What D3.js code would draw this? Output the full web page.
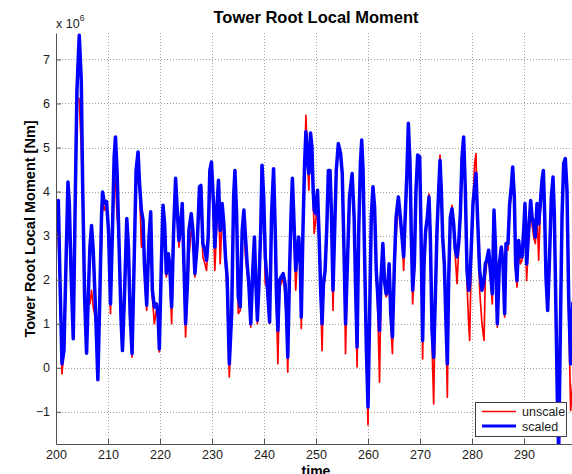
<!DOCTYPE html>
<html lang="en">
<head>
<meta charset="utf-8">
<title>Tower Root Local Moment</title>
<script src="https://d3js.org/d3.v7.min.js"></script>
<style>
  body { margin: 0; background: #fff; }
  svg { font-family: "Liberation Sans", Arial, Helvetica, sans-serif; display: block; }
</style>
</head>
<body>
<div id="grafica"></div>
<script>

// time [s]
var time = [
  200.00,200.45,200.77,201.15,201.53,201.92,202.30,202.56,202.94,203.32,
  203.71,204.03,204.47,204.86,205.11,205.50,205.88,206.20,206.52,206.84,
  207.16,207.41,207.67,208.05,208.43,208.75,208.95,209.33,209.71,210.10,
  210.48,210.86,211.18,211.44,211.76,212.14,212.52,212.78,213.16,213.61,
  213.93,214.25,214.63,215.02,215.40,215.78,216.10,216.42,216.74,217.00,
  217.44,217.89,218.21,218.53,218.91,219.30,219.62,219.87,220.26,220.58,
  220.89,221.21,221.60,221.85,222.24,222.62,223.00,223.32,223.64,223.96,
  224.28,224.60,224.92,225.30,225.56,226.01,226.33,226.71,227.16,227.60,
  227.86,228.24,228.63,228.95,229.27,229.58,229.90,230.29,230.54,230.93,
  231.25,231.57,231.95,232.27,232.59,232.91,233.33,233.78,234.16,234.41,
  234.73,235.05,235.43,235.81,236.13,236.44,236.76,237.08,237.46,237.84,
  238.16,238.41,238.73,238.98,239.37,239.62,239.94,240.25,240.57,241.08,
  241.46,241.84,242.16,242.41,242.67,242.98,243.30,243.68,244.06,244.32,
  244.57,244.95,245.21,245.46,245.71,246.10,246.35,246.67,246.98,247.17,
  247.49,247.81,248.06,248.38,248.63,248.95,249.21,249.46,249.65,249.97,
  250.29,250.60,250.92,251.17,251.43,251.75,252.06,252.38,252.70,252.95,
  253.27,253.59,253.90,254.29,254.73,255.05,255.37,255.68,256.00,256.44,
  256.95,257.33,257.65,257.90,258.22,258.54,258.79,259.05,259.37,259.68,
  260.00,260.32,260.63,260.95,261.27,261.59,261.90,262.22,262.48,262.86,
  263.17,263.49,263.75,264.06,264.38,264.70,265.08,265.40,265.84,266.22,
  266.54,266.86,267.18,267.50,267.76,268.08,268.33,268.59,268.91,269.23,
  269.55,269.94,270.19,270.51,270.77,271.09,271.41,271.73,271.99,272.31,
  272.63,272.95,273.27,273.59,273.85,274.10,274.36,274.68,275.00,275.26,
  275.51,275.83,276.15,276.47,276.79,277.12,277.44,277.76,278.08,278.40,
  278.72,279.04,279.36,279.55,279.87,280.19,280.51,280.77,281.09,281.47,
  281.92,282.31,282.56,282.82,283.21,283.53,283.91,284.23,284.49,284.87,
  285.26,285.64,285.96,286.28,286.54,286.92,287.24,287.56,287.82,288.14,
  288.40,288.65,288.97,289.29,289.62,289.94,290.19,290.51,290.90,291.28,
  291.54,291.86,292.18,292.50,292.82,293.14,293.46,293.72,293.97,294.23,
  294.55,294.87,295.26,295.58,295.83,296.15,296.41,296.67,296.99,297.31,
  297.63,297.95,298.27,298.59,298.97,299.40
];

// scaled moment [x 10^6 Nm]
var scaled = [
  3.12,3.80,1.98,0.09,0.39,2.36,4.22,3.73,1.98,0.66,
  3.88,6.30,7.55,6.53,4.26,1.61,0.33,1.61,2.74,3.23,
  2.67,1.91,1.08,-0.27,1.61,3.42,3.99,3.73,3.77,3.12,
  1.45,3.12,4.79,5.24,4.41,2.74,1.08,0.39,1.61,3.39,
  2.74,1.23,0.32,2.36,4.48,4.90,4.11,3.58,3.35,2.36,
  1.42,2.97,3.54,1.76,1.38,1.45,1.23,0.43,2.36,3.69,
  3.27,2.14,2.59,2.36,1.38,3.12,4.30,3.58,2.89,3.20,
  3.73,2.36,1.00,1.98,3.12,3.50,3.12,2.14,2.82,4.11,
  4.14,2.82,2.67,2.44,2.97,4.48,4.67,3.73,2.74,3.58,
  4.26,3.12,3.73,3.27,2.52,2.06,0.09,1.23,3.88,4.48,
  3.50,1.61,1.38,3.12,3.58,2.97,2.36,1.91,1.00,2.21,
  2.97,1.98,1.08,1.76,3.12,4.60,3.88,2.52,1.98,1.04,
  3.50,4.52,3.12,1.61,0.85,1.98,2.06,2.14,1.91,1.23,
  0.24,2.36,3.50,4.30,3.50,2.21,2.52,2.97,2.36,1.15,
  3.12,4.64,5.36,4.71,4.41,5.33,5.02,4.03,3.58,3.50,
  4.03,2.97,1.68,1.00,1.91,2.21,3.12,4.48,4.48,3.58,
  1.76,3.12,4.48,5.09,4.86,4.41,2.74,1.00,2.21,3.88,
  4.41,3.42,1.61,0.47,3.12,4.64,5.17,4.48,2.36,0.47,
  -0.89,1.23,3.42,4.11,3.65,2.21,1.61,0.85,1.98,2.82,
  1.98,1.68,1.76,2.36,1.23,0.70,2.36,3.42,3.88,3.42,
  2.97,2.52,3.50,4.48,5.55,4.64,2.97,1.76,2.36,4.03,
  4.83,4.79,3.12,0.62,2.36,3.12,3.42,3.88,2.97,0.85,
  0.24,1.61,3.12,4.03,4.71,4.03,2.97,2.36,1.00,0.09,
  1.98,3.42,3.61,3.27,2.67,2.52,2.82,3.50,4.79,5.24,
  4.03,2.21,1.76,1.91,2.74,3.73,4.11,4.41,3.35,2.21,
  1.76,1.98,2.36,2.44,2.67,2.21,1.68,3.58,2.82,1.00,
  2.36,2.74,2.36,1.23,2.82,2.82,3.73,4.11,4.56,3.88,
  2.36,1.98,2.89,2.52,2.52,3.12,3.73,2.36,3.12,3.80,
  3.42,3.27,2.97,3.73,3.27,3.73,4.26,4.48,3.50,2.06,
  1.30,2.36,3.88,4.33,3.50,1.23,-0.67,-1.95,0.85,3.42,
  4.64,4.75,4.03,1.61,0.09,1.50
];

// unscaled moment [x 10^6 Nm]
var unscale = [
  2.52,3.65,1.91,-0.14,0.39,2.21,4.11,3.05,1.91,0.66,
  3.73,6.15,6.10,5.00,4.03,1.45,0.33,1.45,1.45,1.76,
  1.38,1.23,1.00,-0.27,1.61,2.82,3.73,3.58,3.80,3.12,
  1.23,2.97,4.18,4.26,3.42,2.90,0.85,0.43,1.45,3.27,
  2.36,1.15,0.24,2.21,4.33,4.18,4.03,2.74,3.27,2.21,
  1.30,2.82,3.42,1.61,1.00,1.30,1.15,0.36,2.21,3.58,
  3.12,2.06,2.44,2.21,1.00,2.97,4.18,3.42,2.74,3.12,
  3.65,2.21,0.70,1.83,2.52,3.12,2.97,2.06,2.74,4.03,
  3.88,2.52,2.36,2.21,2.82,4.33,4.48,3.42,2.21,3.27,
  4.11,2.36,3.42,3.12,2.36,1.68,-0.21,1.15,3.73,4.33,
  3.42,1.23,1.30,2.97,3.42,2.52,2.21,1.76,0.92,2.06,
  2.82,1.83,1.00,1.61,2.97,4.48,3.73,1.91,1.83,1.00,
  3.35,4.41,2.97,1.38,0.09,1.83,1.91,2.06,1.68,1.00,
  -0.10,2.21,3.35,4.18,3.35,1.76,2.36,2.82,2.21,0.89,
  2.97,4.64,5.73,4.64,4.03,5.24,4.86,3.88,3.05,3.35,
  3.88,2.82,1.53,0.39,1.76,2.06,2.97,4.33,4.33,3.42,
  1.30,2.97,4.41,5.02,4.79,4.33,2.67,0.32,2.06,3.73,
  4.33,3.35,1.45,0.02,2.97,4.48,5.09,4.33,2.21,0.24,
  -1.30,1.08,3.27,3.88,3.50,2.06,1.23,-0.33,1.76,2.67,
  1.91,1.61,1.68,2.06,1.00,0.32,2.21,2.97,3.73,3.27,
  2.97,2.21,3.35,4.33,5.39,4.48,2.82,1.45,2.21,3.88,
  4.79,4.71,2.97,0.20,2.21,2.97,3.35,3.95,2.82,0.55,
  -0.82,1.45,2.97,3.88,4.83,3.88,2.82,2.21,0.85,-0.67,
  1.83,3.27,3.69,3.12,2.52,1.91,2.67,3.42,4.71,5.24,
  3.88,1.91,1.00,0.62,2.52,3.73,4.64,4.86,3.27,1.76,
  1.00,0.62,2.06,2.36,2.52,2.06,1.45,3.42,2.67,0.92,
  2.21,2.67,2.21,1.15,2.67,2.67,3.58,3.95,4.41,3.73,
  2.21,1.83,2.74,2.36,2.44,2.97,3.58,1.98,2.97,3.65,
  3.27,2.97,2.82,3.58,2.44,3.58,4.11,4.33,3.35,1.91,
  1.30,2.21,3.73,4.18,3.35,1.08,-0.74,-2.03,0.70,3.27,
  4.48,4.64,3.88,1.23,-0.97,-0.30
];

var xTicks = [200, 210, 220, 230, 240, 250, 260, 270, 280, 290];
var yTicks = [-1, 0, 1, 2, 3, 4, 5, 6, 7];

var w = 572;
var h = 474;
var padL = 56, padR = 576, padT = 33, padB = 444;

var svg = d3.select("#grafica")
            .append("svg")
            .attr("width", w)
            .attr("height", h);

svg.append("rect")
   .attr("width", w)
   .attr("height", h)
   .attr("fill", "#fff");

var x = d3.scaleLinear().domain([200, 300]).range([padL, padR]);
var y = d3.scaleLinear().domain([-1.73, 7.6]).range([padB, padT]);

// grid
var grid = svg.append("g")
              .attr("stroke", "#a0a0a0")
              .attr("stroke-width", 1)
              .attr("stroke-dasharray", "1,2");

grid.selectAll("line.gx")
    .data(xTicks.slice(1))
    .enter()
    .append("line")
    .attr("x1", function(d){ return Math.round(x(d)) + 0.5; })
    .attr("x2", function(d){ return Math.round(x(d)) + 0.5; })
    .attr("y1", padT)
    .attr("y2", padB);

grid.selectAll("line.gy")
    .data(yTicks)
    .enter()
    .append("line")
    .attr("x1", padL)
    .attr("x2", padR)
    .attr("y1", function(d){ return Math.round(y(d)) + 0.5; })
    .attr("y2", function(d){ return Math.round(y(d)) + 0.5; });

// lines
svg.append("clipPath")
   .attr("id", "plotclip")
   .append("rect")
   .attr("x", padL)
   .attr("y", padT)
   .attr("width", padR - padL)
   .attr("height", padB - padT);

var line = d3.line()
             .x(function(d){ return x(d[0]); })
             .y(function(d){ return y(d[1]); });

var plot = svg.append("g").attr("clip-path", "url(#plotclip)");

plot.append("path")
    .datum(d3.zip(time, unscale))
    .attr("d", line)
    .attr("fill", "none")
    .attr("stroke", "#ff0000")
    .attr("stroke-width", 1.7)
    .attr("stroke-linejoin", "round");

plot.append("path")
    .datum(d3.zip(time, scaled))
    .attr("d", line)
    .attr("fill", "none")
    .attr("stroke", "#0000ff")
    .attr("stroke-width", 3.5)
    .attr("stroke-linejoin", "round");

// axes
var yAxis = d3.axisLeft(y).tickValues(yTicks).tickSize(-5).tickSizeOuter(0).tickPadding(6);
var xAxis = d3.axisBottom(x).tickValues(xTicks).tickSize(-5).tickSizeOuter(0).tickPadding(6);

var gy = svg.append("g")
            .attr("transform", "translate(" + padL + ",0)")
            .call(yAxis);
var gx = svg.append("g")
            .attr("transform", "translate(0," + padB + ")")
            .call(xAxis);

[gx, gy].forEach(function(g){
  g.selectAll("path, line").attr("stroke", "#505050");
  g.selectAll("text")
   .attr("fill", "#1a1a1a")
   .style("font-size", "12.5px")
   .style("font-family", "'Liberation Sans', Arial, sans-serif");
});

// exponent
var ex = svg.append("text")
            .attr("x", 56)
            .attr("y", 28)
            .attr("fill", "#1a1a1a")
            .style("font-size", "12.5px")
            .text("x 10");
ex.append("tspan")
  .attr("dy", -7)
  .style("font-size", "8.5px")
  .text("6");

// titles
svg.append("text")
   .attr("x", 316)
   .attr("y", 23)
   .attr("text-anchor", "middle")
   .style("font-size", "16.5px")
   .style("font-weight", "bold")
   .text("Tower Root Local Moment");

svg.append("text")
   .attr("transform", "translate(35,229) rotate(-90)")
   .attr("text-anchor", "middle")
   .style("font-size", "14.5px")
   .style("font-weight", "bold")
   .text("Tower Root Local Moment [Nm]");

svg.append("text")
   .attr("x", 316)
   .attr("y", 476)
   .attr("text-anchor", "middle")
   .style("font-size", "14px")
   .style("font-weight", "bold")
   .text("time");

// legend
var series = [
  {label: "unscale", color: "#ff0000", width: 1.4},
  {label: "scaled", color: "#0000ff", width: 3.2}
];

var legend = svg.append("g").attr("transform", "translate(475,402)");
legend.append("rect")
      .attr("x", 0.5)
      .attr("y", 0.5)
      .attr("width", 91)
      .attr("height", 34)
      .attr("fill", "#fff")
      .attr("stroke", "#404040");

var item = legend.selectAll("g.item")
                 .data(series)
                 .enter()
                 .append("g")
                 .attr("transform", function(d, i){ return "translate(0," + (9.5 + i * 14.5) + ")"; });

item.append("line")
    .attr("x1", 7)
    .attr("x2", 41)
    .attr("stroke", function(d){ return d.color; })
    .attr("stroke-width", function(d){ return d.width; });

item.append("text")
    .attr("x", 47)
    .attr("y", 4.5)
    .attr("fill", "#1a1a1a")
    .style("font-size", "12.5px")
    .text(function(d){ return d.label; });

</script>
</body>
</html>
